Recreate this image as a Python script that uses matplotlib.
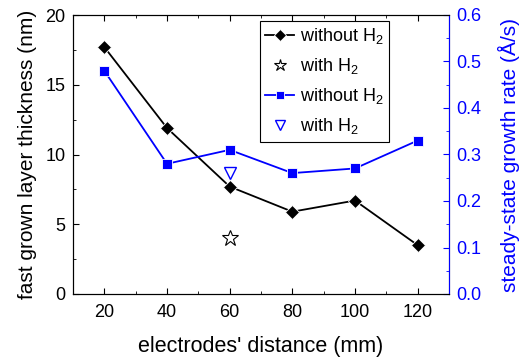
import numpy as np
import matplotlib
matplotlib.use('Agg')
import matplotlib.pyplot as plt
from matplotlib.ticker import MultipleLocator, FormatStrFormatter

# values
distance = [20, 40, 60, 80, 100, 120]
thickness_no_h2 = [17.7, 11.9, 7.7, 5.9, 6.7, 3.5]
thickness_h2_x = [60]
thickness_h2 = [4.05]
rate_no_h2 = [0.48, 0.28, 0.31, 0.26, 0.27, 0.33]
rate_h2_x = [60]
rate_h2 = [0.26]

plt.rcParams.update({'font.family': ['Liberation Sans', 'DejaVu Sans'],
                     'mathtext.fontset': 'custom', 'mathtext.rm': 'Liberation Sans',
                     'font.size': 13})

blue = '#0000ff'
fig = plt.figure(figsize=(5.31, 3.58), dpi=100, facecolor='white')
ax = fig.add_axes([73/531, 1 - 294/358, (449-73)/531, (294-15)/358])
ax2 = ax.twinx()

l1, = ax.plot(distance, thickness_no_h2, color='black', lw=1.3, marker='D', ms=7.5,
              markeredgecolor='white', markeredgewidth=0.6, label='without H$_2$')
l2, = ax.plot(thickness_h2_x, thickness_h2, ls='none', marker='*', ms=12,
              markerfacecolor='none', markeredgecolor='black', markeredgewidth=0.8,
              label='with H$_2$')
l3, = ax2.plot(distance, rate_no_h2, color=blue, lw=1.3, marker='s', ms=7.5,
               markeredgecolor='white', markeredgewidth=0.6, label='without H$_2$')
l4, = ax2.plot(rate_h2_x, rate_h2, ls='none', marker='v', ms=9,
               markerfacecolor='none', markeredgecolor=blue, markeredgewidth=1.0,
               label='with H$_2$')

ax.set_xlim(10, 130)
ax.set_ylim(0, 20)
ax2.set_ylim(0, 0.6)
ax.xaxis.set_major_locator(MultipleLocator(20))
ax.xaxis.set_minor_locator(MultipleLocator(10))
ax.yaxis.set_major_locator(MultipleLocator(5))
ax.yaxis.set_minor_locator(MultipleLocator(2.5))
ax2.yaxis.set_major_locator(MultipleLocator(0.1))
ax2.yaxis.set_minor_locator(MultipleLocator(0.05))
ax2.yaxis.set_major_formatter(FormatStrFormatter('%.1f'))

ax.tick_params(which='both', direction='in', top=True, labelsize=13)
ax.tick_params(which='major', length=4)
ax.tick_params(which='minor', length=2)
ax.tick_params(axis='x', pad=7)
ax.tick_params(axis='y', pad=5.5)
ax2.tick_params(which='both', direction='in', colors=blue, labelsize=13, pad=5.5)
ax2.tick_params(which='major', length=4)
ax2.tick_params(which='minor', length=2)
ax2.spines['right'].set_color(blue)

ax.set_xlabel("electrodes' distance (mm)", fontsize=15.5, labelpad=11)
ax.set_ylabel('fast grown layer thickness (nm)', fontsize=15, labelpad=6)
ax2.set_ylabel('steady-state growth rate (Å/s)', fontsize=15, color=blue, labelpad=12)

leg = ax2.legend(handles=[l1, l2, l3, l4], loc='upper left',
                 bbox_to_anchor=((260-73)/376, 1 - (21-15)/279),
                 fancybox=False, edgecolor='black', framealpha=1,
                 handlelength=1.6, handletextpad=0.3, borderpad=0.3,
                 borderaxespad=0, labelspacing=0.55, markerscale=0.75, fontsize=13)
leg.get_frame().set_linewidth(0.8)

fig.savefig('out.png', dpi=100)
